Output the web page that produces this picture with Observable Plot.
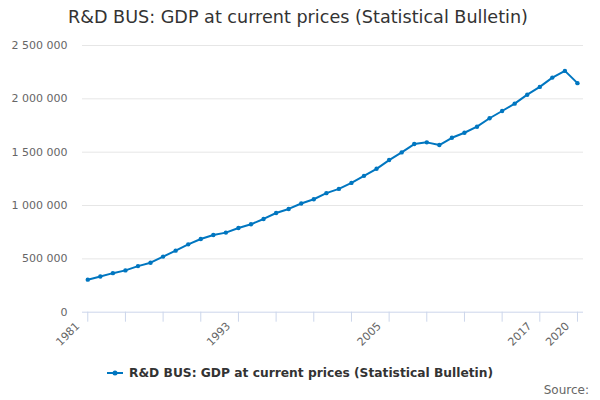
<!DOCTYPE html>
<html>
<head>
<meta charset="utf-8">
<script src="https://cdn.jsdelivr.net/npm/d3@7"></script>
<script src="https://cdn.jsdelivr.net/npm/@observablehq/plot@0.6"></script>
<style>
  html, body { margin: 0; padding: 0; background: #fff; }
  #wrap { position: relative; width: 600px; height: 400px; font-family: "DejaVu Sans", sans-serif; overflow: hidden; }
  #title { position: absolute; left: 68px; top: 7px; font-size: 17.6px; color: #333; white-space: nowrap; }
  #chart { position: absolute; left: 0; top: 36px; }
  #legend { position: absolute; left: 107px; top: 366px; font-size: 12.25px; font-weight: bold; color: #333; white-space: nowrap; display: flex; align-items: center; }
  #legend svg { margin-right: 6px; }
  #source { position: absolute; right: 11px; top: 383px; font-size: 12px; color: #666; }
</style>
</head>
<body>
<div id="wrap">
  <div id="title">R&amp;D BUS: GDP at current prices (Statistical Bulletin)</div>
  <div id="chart"></div>
  <div id="legend"><svg width="16" height="10"><line x1="0" y1="5" x2="16" y2="5" stroke="#0076c0" stroke-width="2"/><circle cx="8" cy="5" r="2.5" fill="#0076c0"/></svg><span>R&amp;D BUS: GDP at current prices (Statistical Bulletin)</span></div>
  <div id="source">Source:</div>
</div>
<script>
const years = [1981,1982,1983,1984,1985,1986,1987,1988,1989,1990,1991,1992,1993,1994,1995,1996,1997,1998,1999,2000,2001,2002,2003,2004,2005,2006,2007,2008,2009,2010,2011,2012,2013,2014,2015,2016,2017,2018,2019,2020];
const gdp = [305000,335000,366000,392000,432000,464000,521000,577000,636000,686000,724000,746000,789000,824000,874000,930000,968000,1019000,1059000,1116000,1156000,1212000,1278000,1344000,1426000,1498000,1576000,1592000,1567000,1635000,1682000,1739000,1818000,1886000,1955000,2039000,2112000,2199000,2262000,2147000];
const yTicks = [0,500000,1000000,1500000,2000000,2500000];
const xTicks = [1981,1984,1987,1990,1993,1996,1999,2002,2005,2008,2011,2014,2017,2020];
const xLabels = [1981,1993,2005,2017,2020];

const data = years.map((y, i) => ({year: y, value: gdp[i]}));
const fmt = d3.formatLocale({decimal: ".", thousands: " ", grouping: [3], currency: ["", ""]}).format(",");
const color = "#0076c0";

const chart = Plot.plot({
  width: 600,
  height: 320,
  marginLeft: 82,
  marginRight: 17,
  marginTop: 9,
  marginBottom: 44.3,
  style: {fontFamily: "DejaVu Sans, sans-serif", fontSize: "11px", color: "#666", background: "transparent"},
  x: {domain: [1980.58, 2020.48], label: null},
  y: {domain: [0, 2500000], label: null},
  marks: [
    Plot.gridY(yTicks.filter(d => d > 0), {stroke: "#e6e6e6", strokeOpacity: 1}),
    Plot.ruleY([0], {stroke: "#ccd6eb"}),
    Plot.axisY(yTicks, {tickSize: 0, tickPadding: 15, tickFormat: fmt, label: null, fill: "#666", fontSize: 11}),
    Plot.axisX(xTicks, {tickSize: 10, stroke: "#ccd6eb", tickFormat: () => "", label: null}),
    Plot.axisX(xLabels, {tickSize: 0, tickPadding: 12, dx: -10, tickRotate: -45, tickFormat: d => String(d), label: null, fill: "#666", fontSize: 11}),
    Plot.line(data, {x: "year", y: "value", stroke: color, strokeWidth: 2}),
    Plot.dot(data, {x: "year", y: "value", fill: color, r: 2.2})
  ]
});
document.getElementById("chart").appendChild(chart);
</script>
</body>
</html>
